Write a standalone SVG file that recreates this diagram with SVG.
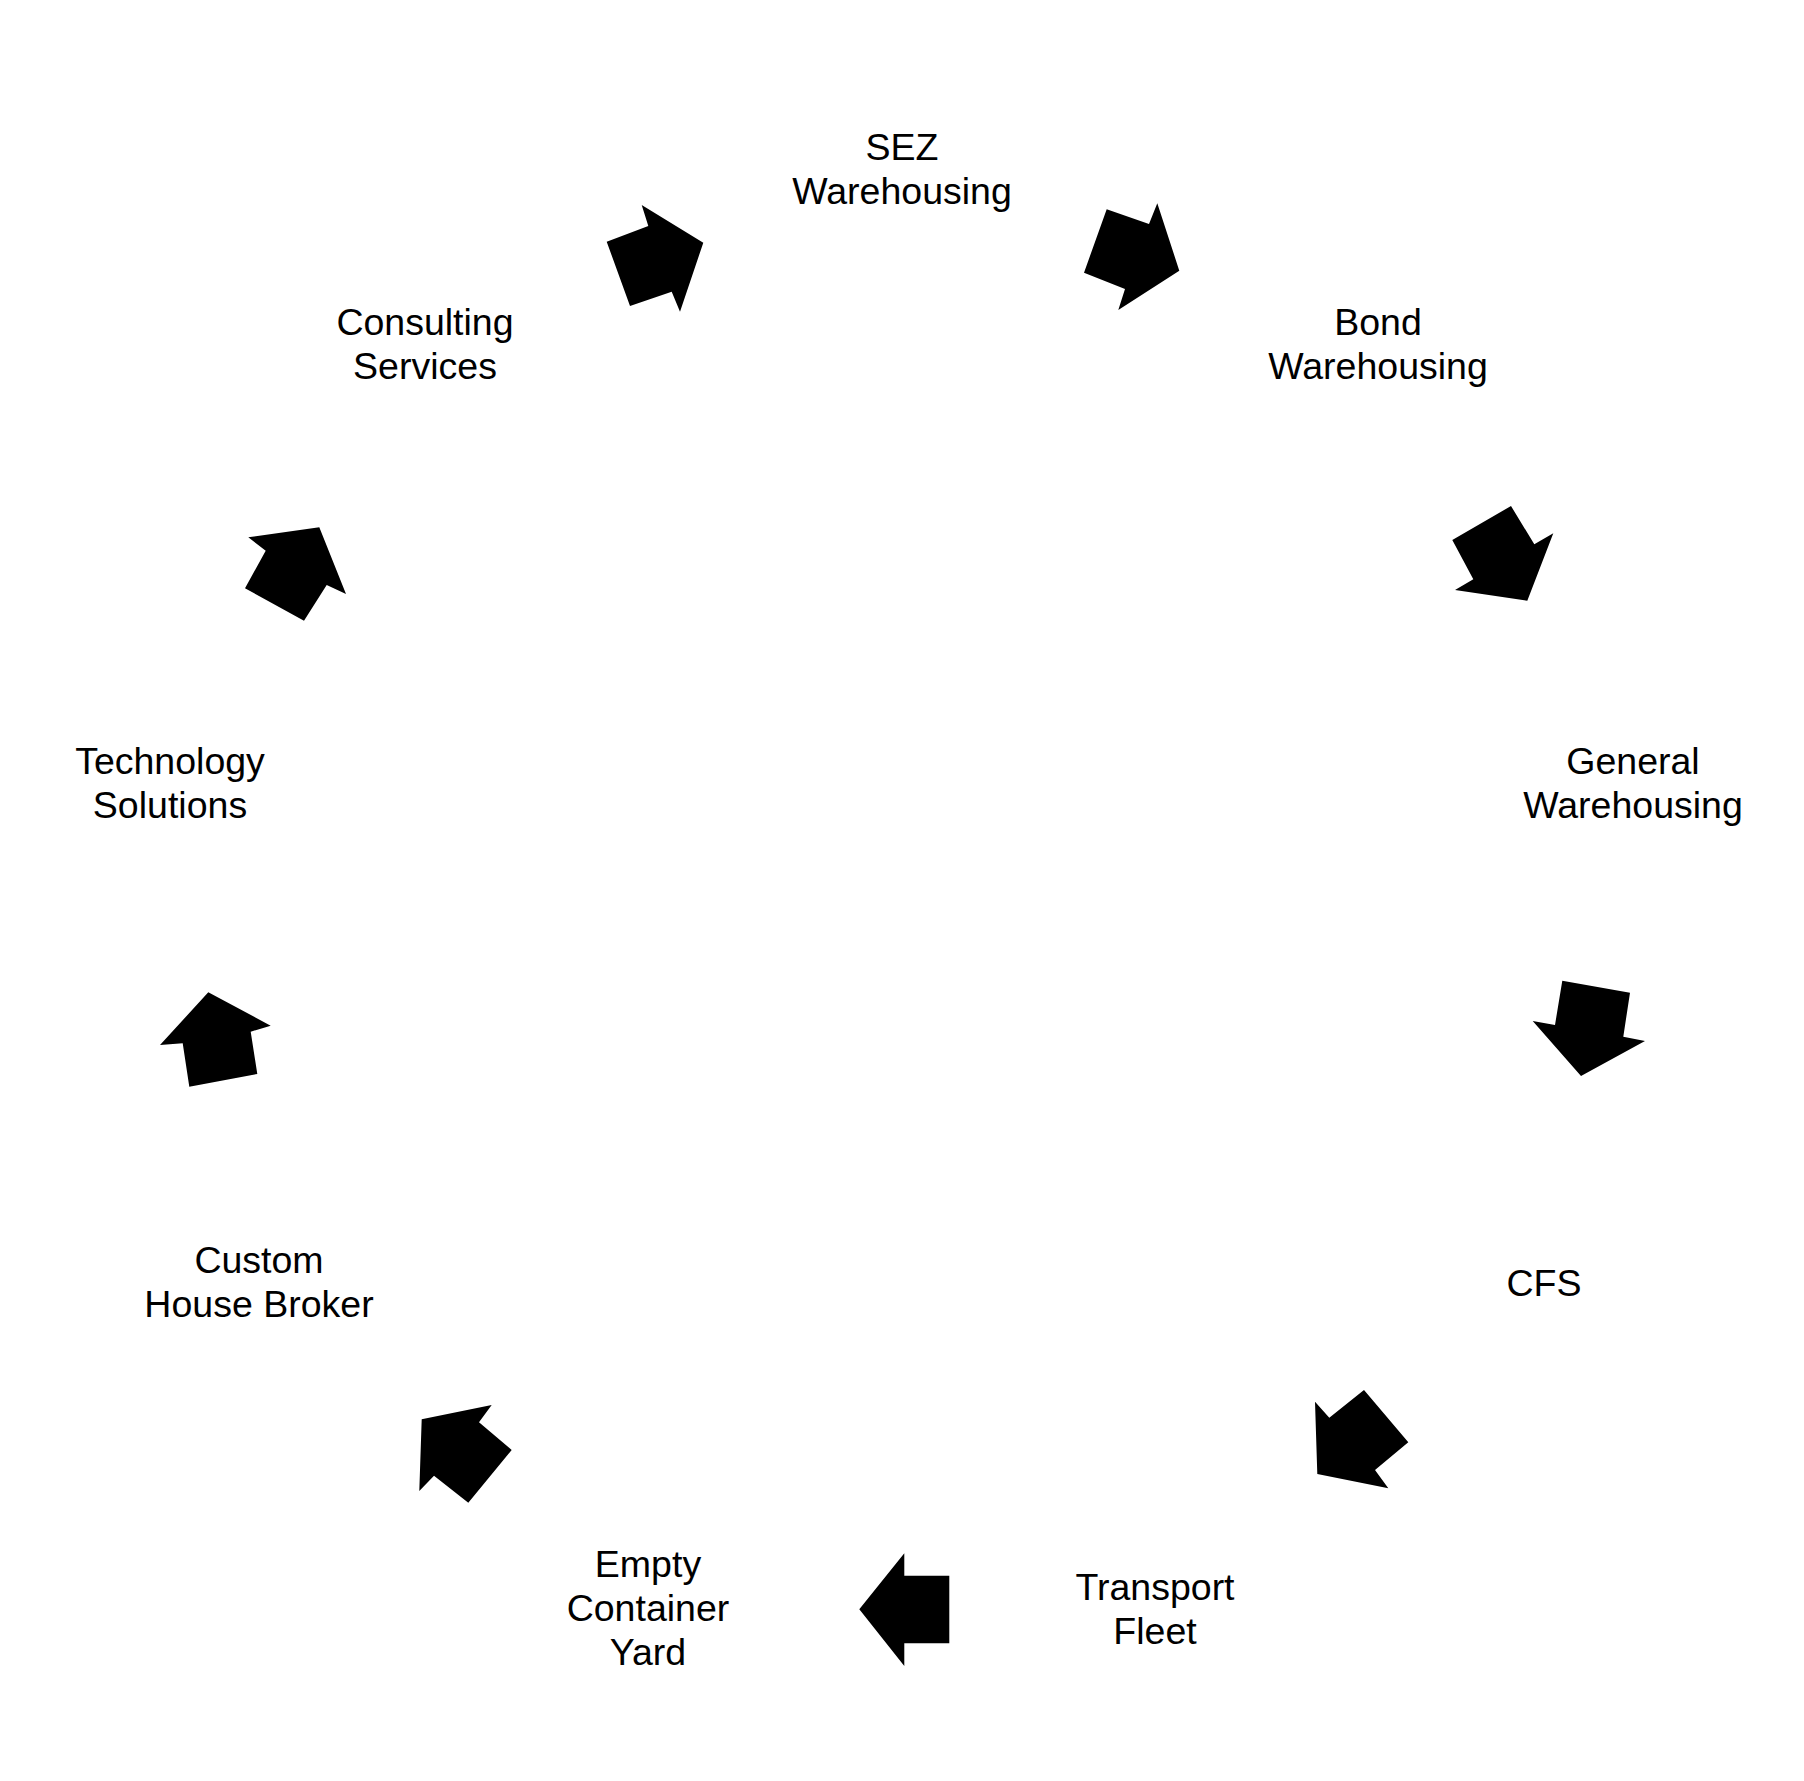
<svg xmlns="http://www.w3.org/2000/svg" width="1804" height="1781" viewBox="0 0 1804 1781">
<style>
.lbl{font-family:"Liberation Sans",Arial,sans-serif;font-size:37.5px;fill:#000;text-anchor:middle}
.arr{fill:#000;stroke:none}
</style>
<rect width="1804" height="1781" fill="#fff"/>
<g id="node-sez"><text class="lbl" x="902" y="160">SEZ</text><text class="lbl" x="902" y="204">Warehousing</text></g>
<g id="node-bond"><text class="lbl" x="1378" y="335">Bond</text><text class="lbl" x="1378" y="379">Warehousing</text></g>
<g id="node-general"><text class="lbl" x="1633" y="774">General</text><text class="lbl" x="1633" y="818">Warehousing</text></g>
<g id="node-cfs"><text class="lbl" x="1544" y="1296">CFS</text></g>
<g id="node-transport"><text class="lbl" x="1155" y="1600">Transport</text><text class="lbl" x="1155" y="1644">Fleet</text></g>
<g id="node-empty"><text class="lbl" x="648" y="1577">Empty</text><text class="lbl" x="648" y="1621">Container</text><text class="lbl" x="648" y="1665">Yard</text></g>
<g id="node-chb"><text class="lbl" x="259" y="1273">Custom</text><text class="lbl" x="259" y="1317">House Broker</text></g>
<g id="node-tech"><text class="lbl" x="170" y="774">Technology</text><text class="lbl" x="170" y="818">Solutions</text></g>
<g id="node-consult"><text class="lbl" x="425" y="335">Consulting</text><text class="lbl" x="425" y="379">Services</text></g>
<g id="connectors">
<polygon class="arr" points="606.7,241.7 648.3,226 641.7,205 703.3,242.7 680,311.7 671.7,291.7 630,306"/>
<polygon class="arr" points="1106.7,209.3 1149,224 1157.3,203.3 1179.3,270.7 1118.3,310 1125,289 1084,272.7"/>
<polygon class="arr" points="1452.3,540 1511,506 1534.3,544.3 1553.3,533.3 1527.3,600.7 1455,590 1473.3,579.3"/>
<polygon class="arr" points="1562.3,980.7 1630,992.7 1623.3,1036.7 1645,1041 1581,1076 1532.7,1021 1555,1025"/>
<polygon class="arr" points="1364,1390 1408.3,1442.3 1375,1470 1388.3,1488.3 1317.3,1474 1315,1401.7 1329.3,1417.7"/>
<polygon class="arr" points="949.3,1575.7 949.3,1643.3 904.3,1643.3 904.3,1666 859.3,1609.3 904.3,1553.3 904.3,1575.7"/>
<polygon class="arr" points="491.7,1405 479,1422.3 511.7,1450 468.3,1502.7 434,1475.7 419.3,1491 421.7,1419.3"/>
<polygon class="arr" points="208.3,992.3 270.7,1025.7 250.7,1031.7 257.3,1074 189.3,1086.7 182.7,1043.3 160,1045"/>
<polygon class="arr" points="248.3,537.3 319.3,527.3 346,594 326.7,585 304,620.7 245,588.3 265.7,550.7"/>
</g>
</svg>
